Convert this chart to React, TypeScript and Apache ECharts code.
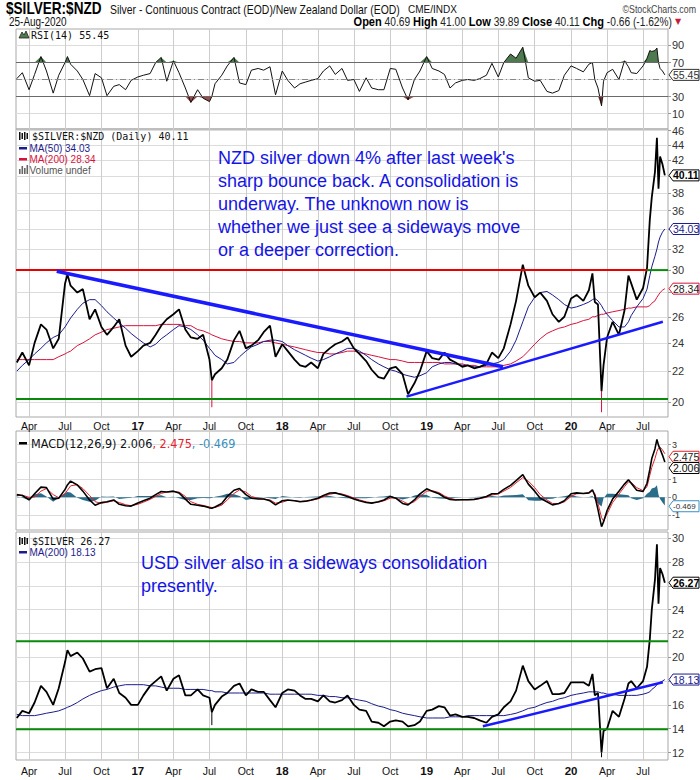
import React, { useEffect, useRef } from "react";
import * as echarts from "echarts";

// ---------- DATA ----------
const dates = [
  "2016-03-01","2016-03-15","2016-04-01","2016-04-15","2016-05-01","2016-05-15","2016-06-01","2016-06-15","2016-07-01","2016-07-07",
  "2016-07-15","2016-08-01","2016-08-15","2016-09-01","2016-09-15","2016-10-01","2016-10-15","2016-11-01","2016-11-15","2016-12-01",
  "2016-12-15","2017-01-01","2017-01-15","2017-02-01","2017-02-15","2017-03-01","2017-03-15","2017-04-01","2017-04-15","2017-05-01",
  "2017-05-15","2017-06-01","2017-06-15","2017-07-01","2017-07-07","2017-07-15","2017-08-01","2017-08-15","2017-09-01","2017-09-15",
  "2017-10-01","2017-10-15","2017-11-01","2017-11-15","2017-12-01","2017-12-15","2018-01-01","2018-01-15","2018-02-01","2018-02-15",
  "2018-03-01","2018-03-15","2018-04-01","2018-04-15","2018-05-01","2018-05-15","2018-06-01","2018-06-15","2018-07-01","2018-07-15",
  "2018-08-01","2018-08-15","2018-09-01","2018-09-15","2018-10-01","2018-10-15","2018-11-01","2018-11-15","2018-12-01","2018-12-15",
  "2019-01-01","2019-01-15","2019-02-01","2019-02-15","2019-03-01","2019-03-15","2019-04-01","2019-04-15","2019-05-01","2019-05-15",
  "2019-06-01","2019-06-15","2019-07-01","2019-07-15","2019-08-01","2019-08-15","2019-09-01","2019-09-15","2019-10-01","2019-10-15",
  "2019-11-01","2019-11-15","2019-12-01","2019-12-15","2020-01-01","2020-01-15","2020-02-01","2020-02-15","2020-02-24","2020-03-01",
  "2020-03-09","2020-03-18","2020-03-23","2020-04-01","2020-04-15","2020-05-01","2020-05-15","2020-05-25","2020-06-01","2020-06-15",
  "2020-07-01","2020-07-11","2020-07-18","2020-07-23","2020-07-31","2020-08-05","2020-08-09","2020-08-13","2020-08-19","2020-08-25",
];

const nzdClose = [
  22.6, 23.3, 22.4, 24.0, 25.4, 25.0, 23.6, 24.3, 28.8, 29.6,
  28.6, 28.0, 28.3, 25.8, 26.6, 25.2, 24.6, 25.2, 25.8, 23.8,
  23.0, 23.4, 23.8, 24.0, 24.6, 25.3, 25.8, 26.2, 26.6, 25.0,
  24.4, 24.3, 24.6, 22.8, 21.4, 21.8, 22.2, 22.8, 24.2, 24.9,
  23.6, 23.8, 24.2, 24.8, 25.3, 23.0, 23.9, 23.4, 22.8, 22.4,
  22.3, 22.6, 22.2, 23.2, 23.6, 23.9, 24.1, 24.4, 23.6, 23.2,
  22.7, 22.1, 21.6, 21.5, 22.2, 22.3, 21.8, 20.5, 21.2, 22.0,
  23.4, 22.9, 22.8, 23.3, 22.8, 22.6, 22.3, 22.4, 22.2, 22.3,
  22.5, 23.3, 22.9, 23.6, 25.4, 27.3, 30.5, 28.6, 27.6, 28.0,
  27.3, 26.2, 25.6, 26.0, 27.5, 27.8, 27.3, 28.2, 29.7, 27.2,
  27.0, 20.7, 22.4, 24.4, 25.6, 24.6, 26.5, 29.5, 28.8, 27.4,
  28.4, 30.2, 35.0, 37.5, 40.5, 45.0, 38.5, 42.5, 41.5, 40.11,
];
const nzdMa50 = [
  22.0, 22.4, 22.8, 23.2, 23.6, 24.0, 24.4, 24.6, 25.2, 25.5,
  25.9, 26.6, 27.1, 27.4, 27.4, 26.9, 26.4, 25.9, 25.5, 25.1,
  24.7, 24.3, 24.0, 23.7, 23.9, 24.3, 24.6, 25.0, 25.3, 25.2,
  25.0, 24.6, 24.2, 23.6, 23.4, 23.1, 22.8, 22.5, 22.6, 23.0,
  23.4, 23.7, 23.9, 24.1, 24.2, 24.2, 24.1, 23.8, 23.5, 23.3,
  23.1, 22.9, 22.7, 22.8, 23.0, 23.2, 23.4, 23.6, 23.6, 23.4,
  23.1, 22.8, 22.5, 22.3, 22.1, 22.0, 21.8, 21.7, 21.6, 21.7,
  21.9, 22.3, 22.5, 22.6, 22.6, 22.5, 22.4, 22.4, 22.3, 22.3,
  22.4, 22.5, 22.6, 22.8, 23.4, 24.2, 25.6, 26.8, 27.6, 28.0,
  28.1, 27.8, 27.4, 27.0, 26.7, 26.8, 27.0, 27.2, 27.4, 27.5,
  27.3, 26.9, 26.6, 26.2, 25.7, 25.2, 25.2, 25.6, 26.1, 26.8,
  27.5, 28.3, 29.5, 30.3, 31.3, 32.0, 32.7, 33.2, 33.7, 34.03,
];
const nzdMa200 = [
  22.8, 22.8, 22.8, 22.8, 22.8, 22.8, 22.8, 23.0, 23.2, 23.3,
  23.4, 23.8, 24.0, 24.3, 24.6, 24.8, 25.0, 25.1, 25.2, 25.3,
  25.3, 25.3, 25.3, 25.3, 25.3, 25.4, 25.4, 25.4, 25.4, 25.3,
  25.3, 25.0, 24.9, 24.7, 24.6, 24.5, 24.3, 24.2, 24.1, 24.1,
  24.0, 24.0, 24.0, 24.1, 24.1, 24.0, 23.9, 23.8, 23.7, 23.6,
  23.5, 23.4, 23.3, 23.3, 23.2, 23.2, 23.3, 23.4, 23.4, 23.3,
  23.2, 23.1, 23.0, 22.9, 22.8, 22.8, 22.7, 22.6, 22.6, 22.6,
  22.6, 22.6, 22.6, 22.5, 22.5, 22.5, 22.5, 22.4, 22.4, 22.3,
  22.3, 22.3, 22.3, 22.4, 22.5, 22.7, 23.0, 23.4, 23.9, 24.3,
  24.7, 24.9, 25.1, 25.2, 25.4, 25.5, 25.7, 25.8, 26.0, 26.0,
  26.1, 26.2, 26.2, 26.3, 26.4, 26.5, 26.6, 26.7, 26.7, 26.8,
  26.8, 26.8, 26.9, 27.1, 27.3, 27.6, 27.8, 28.0, 28.2, 28.34,
];
// daily wicks that stick out of the close line: [date, close, low]
const nzdSpikes: [string, number, number][] = [["2017-07-07", 21.4, 19.7], ["2020-03-18", 20.7, 19.4]];

const rsi14 = [
  51, 58, 38, 56, 77, 60, 34, 55, 70, 77,
  68, 60, 50, 31, 57, 52, 31, 42, 44, 38,
  49, 53, 55, 57, 70, 76, 48, 72, 58, 40,
  23, 38, 28, 24, 30, 45, 55, 66, 76, 46,
  44, 61, 63, 61, 65, 32, 60, 49, 40, 45,
  47, 49, 51, 60, 66, 56, 63, 49, 50, 36,
  52, 40, 38, 38, 63, 62, 40, 26, 50, 60,
  77, 63, 60, 56, 40, 46, 49, 50, 49, 51,
  55, 69, 53, 70, 80, 75, 88, 52, 48, 49,
  36, 34, 37, 55, 66, 63, 59, 68, 70, 50,
  40, 19, 48, 58, 62, 50, 72, 65, 58, 57,
  66, 75, 84, 83, 84, 87, 70, 63, 60, 55.45,
];

const macdLine = [
  0.15, 0.10, -0.15, 0.20, 0.58, 0.55, -0.10, -0.05, 0.45, 0.70,
  0.92, 0.70, 0.35, -0.15, -0.45, -0.30, -0.25, -0.15, -0.40, -0.48,
  -0.50, -0.33, -0.20, -0.05, 0.15, 0.33, 0.30, 0.35, 0.25, -0.10,
  -0.40, -0.45, -0.50, -0.60, -0.62, -0.55, -0.35, 0.05, 0.40, 0.50,
  0.15, -0.05, -0.10, -0.10, -0.20, -0.43, -0.20, -0.15, -0.20, -0.25,
  -0.22, -0.15, -0.05, 0.10, 0.24, 0.25, 0.15, 0.05, -0.10, -0.20,
  -0.30, -0.33, -0.25, -0.15, 0.05, -0.05, -0.35, -0.43, -0.15, 0.20,
  0.48, 0.35, 0.20, 0.00, -0.12, -0.15, -0.14, -0.14, -0.12, -0.05,
  0.05, 0.20, 0.22, 0.45, 0.68, 0.95, 1.29, 0.75, 0.35, -0.05,
  -0.25, -0.43, -0.35, -0.20, 0.20, 0.25, 0.22, 0.25, 0.43, 0.10,
  -0.70, -1.67, -1.40, -0.75, -0.10, 0.35, 0.75, 1.00, 0.80, 0.40,
  0.33, 0.80, 1.57, 2.20, 2.75, 3.29, 2.95, 2.75, 2.40, 2.006,
];
const macdSignal = [
  0.10, 0.12, 0.00, 0.02, 0.35, 0.50, 0.15, -0.02, 0.20, 0.40,
  0.65, 0.72, 0.50, 0.10, -0.25, -0.35, -0.28, -0.20, -0.30, -0.42,
  -0.48, -0.40, -0.28, -0.12, 0.05, 0.22, 0.30, 0.32, 0.30, 0.05,
  -0.25, -0.40, -0.46, -0.55, -0.58, -0.58, -0.45, -0.15, 0.22, 0.42,
  0.30, 0.05, -0.06, -0.10, -0.15, -0.33, -0.28, -0.18, -0.19, -0.23,
  -0.23, -0.18, -0.09, 0.03, 0.17, 0.23, 0.19, 0.10, -0.04, -0.15,
  -0.25, -0.31, -0.28, -0.20, -0.05, -0.03, -0.22, -0.38, -0.25, 0.03,
  0.35, 0.38, 0.27, 0.08, -0.06, -0.13, -0.14, -0.14, -0.13, -0.08,
  0.00, 0.13, 0.19, 0.35, 0.56, 0.82, 1.12, 0.92, 0.55, 0.15,
  -0.15, -0.35, -0.37, -0.26, 0.05, 0.20, 0.22, 0.24, 0.35, 0.22,
  -0.35, -1.15, -1.35, -0.95, -0.30, 0.18, 0.60, 0.88, 0.85, 0.55,
  0.38, 0.60, 1.25, 1.70, 2.20, 2.60, 2.80, 2.85, 2.70, 2.475,
];
const macdHist = [
  0.05, -0.02, -0.15, 0.18, 0.23, 0.05, -0.25, -0.03, 0.25, 0.30,
  0.27, -0.02, -0.15, -0.25, -0.20, 0.05, 0.03, 0.05, -0.10, -0.06,
  -0.02, 0.07, 0.08, 0.07, 0.10, 0.11, 0.00, 0.03, -0.05, -0.15,
  -0.15, -0.05, -0.04, -0.05, -0.04, 0.03, 0.10, 0.20, 0.18, 0.08,
  -0.15, -0.10, -0.04, 0.00, -0.05, -0.10, 0.08, 0.03, -0.01, -0.02,
  0.01, 0.03, 0.04, 0.07, 0.07, 0.02, -0.04, -0.05, -0.06, -0.05,
  -0.05, -0.02, 0.03, 0.05, 0.10, -0.02, -0.13, -0.05, 0.10, 0.17,
  0.13, -0.03, -0.07, -0.08, -0.06, -0.02, 0.00, 0.00, 0.01, 0.03,
  0.05, 0.07, 0.03, 0.10, 0.12, 0.13, 0.17, -0.17, -0.20, -0.20,
  -0.10, -0.08, 0.02, 0.06, 0.15, 0.05, 0.00, 0.01, 0.08, -0.12,
  -0.35, -0.52, -0.05, 0.20, 0.20, 0.17, 0.15, 0.12, -0.05, -0.15,
  -0.05, 0.20, 0.32, 0.50, 0.55, 0.69, 0.15, -0.10, -0.30, -0.469,
];

const usdClose = [
  14.9, 15.5, 15.3, 16.2, 17.6, 17.1, 16.0, 17.4, 19.6, 20.6,
  20.1, 20.4, 19.9, 18.8, 19.0, 19.1, 17.4, 18.2, 17.0, 16.6,
  16.0, 16.0, 16.8, 17.6, 18.0, 18.4, 17.2, 18.2, 18.5, 16.8,
  16.8, 17.3, 16.8, 16.6, 15.4, 16.0, 16.7, 17.0, 17.6, 17.8,
  16.8, 17.3, 17.1, 17.1, 16.4, 15.8, 17.0, 17.3, 17.2, 16.8,
  16.5, 16.5, 16.3, 16.8, 16.3, 16.2, 16.4, 16.8, 16.0, 15.6,
  15.5, 14.6, 14.5, 14.2, 14.6, 14.7, 14.6, 14.2, 14.3, 14.6,
  15.5, 15.6, 15.9, 15.8, 15.1, 15.2, 15.0, 15.0, 14.9, 14.7,
  14.5, 15.0, 15.2, 15.8, 16.3, 17.2, 19.3, 18.0, 17.3, 17.6,
  18.0, 16.9, 16.9, 17.0, 17.9, 17.9, 17.9, 17.6, 18.6, 16.8,
  17.0, 12.0, 13.8, 14.0, 15.5, 15.0, 16.5, 17.8, 18.0, 17.4,
  18.0, 19.2, 21.5, 24.0, 26.5, 29.5, 24.5, 27.5, 27.0, 26.27,
];
const usdMa200 = [
  15.2, 15.1, 15.1, 15.1, 15.2, 15.3, 15.4, 15.5, 15.7, 15.8,
  15.9, 16.2, 16.5, 16.8, 17.0, 17.2, 17.3, 17.5, 17.6, 17.7,
  17.7, 17.7, 17.7, 17.6, 17.6, 17.5, 17.4, 17.4, 17.4, 17.3,
  17.3, 17.3, 17.3, 17.2, 17.2, 17.1, 17.1, 17.0, 17.0, 17.0,
  17.0, 17.0, 17.0, 17.0, 16.9, 16.9, 16.9, 16.9, 16.9, 16.9,
  16.9, 16.9, 16.8, 16.8, 16.7, 16.7, 16.6, 16.6, 16.5, 16.4,
  16.3, 16.1, 15.9, 15.8, 15.6, 15.5, 15.3, 15.2, 15.1, 15.0,
  14.9, 14.9, 14.9, 14.9, 15.0, 15.0, 15.0, 15.1, 15.1, 15.1,
  15.1, 15.1, 15.1, 15.1, 15.2, 15.3, 15.5, 15.7, 15.8, 16.0,
  16.2, 16.3, 16.5, 16.6, 16.8, 16.9, 17.0, 17.1, 17.1, 17.1,
  17.1, 17.0, 17.0, 16.9, 16.9, 16.8, 16.8, 16.8, 16.8, 16.8,
  16.9, 17.0, 17.1, 17.3, 17.5, 17.7, 17.8, 17.9, 18.0, 18.13,
];
const usdSpikes: [string, number, number][] = [["2017-07-07", 15.4, 14.3], ["2020-03-18", 12.0, 11.6]];

// drawn levels and trend lines
const nzdResistance = 30;
const nzdResistanceBreak = "2020-07-11";
const nzdSupport = 20.2;
const nzdDownTrend: [string, number][] = [["2016-06-10", 29.9], ["2019-07-13", 22.3]];
const nzdUpTrend: [string, number][] = [["2018-11-11", 20.35], ["2020-08-20", 25.6]];
const usdResistance = 21.35;
const usdSupport = 13.95;
const usdUpTrend: [string, number][] = [["2019-05-23", 14.2], ["2020-08-20", 17.9]];

// tick labels (grid ticks, and the labels left visible beside the value tags)
const xTickDates = [
  "2016-04-01","2016-07-01","2016-10-01","2017-01-01","2017-04-01","2017-07-01","2017-10-01","2018-01-01","2018-04-01",
  "2018-07-01","2018-10-01","2019-01-01","2019-04-01","2019-07-01","2019-10-01","2020-01-01","2020-04-01","2020-07-01",
];
const xTickLabels = ["Apr","Jul","Oct","17","Apr","Jul","Oct","18","Apr","Jul","Oct","19","Apr","Jul","Oct","20","Apr","Jul"];
const rsiTicks = [10, 30, 50, 70, 90];
const rsiLabels = [10, 30, 70, 90];
const nzdTicks = [20, 22, 24, 26, 28, 30, 32, 34, 36, 38, 40, 42, 44, 46];
const nzdLabels = [20, 22, 24, 26, 30, 32, 36, 38, 42, 44, 46];
const macdTicks = [-1, 0, 1, 2, 3];
const macdLabels = [-1, 0, 1, 3];
const usdTicks = [12, 14, 16, 18, 20, 22, 24, 26, 28, 30];
const usdLabels = [12, 14, 16, 20, 22, 24, 28, 30];

// ---------- helpers ----------
const FONT = "'Liberation Sans', Arial, Helvetica, sans-serif";
const MONO = "'DejaVu Sans Mono', 'Liberation Mono', monospace";
const DEJAVU = "'DejaVu Sans', Verdana, sans-serif";

const DAY0 = Date.UTC(2016, 0, 1);
const toDay = (s: string) =>
  (Date.UTC(+s.slice(0, 4), +s.slice(5, 7) - 1, +s.slice(8, 10)) - DAY0) / 86400000;
const X_MIN = 58;
const X_MAX = 1706;
const xDays = dates.map(toDay);
const tickDays = xTickDates.map(toDay);
const ln = Math.log;
const pts = (vals: number[], f: (v: number) => number = (v) => v) => vals.map((v, i) => [xDays[i], f(v)]);

const GRIDS = [
  { top: 29, height: 100 },
  { top: 129, height: 288 },
  { top: 431, height: 99 },
  { top: 532, height: 228 },
];

const NAVY = "#1c1c8c";
const CRIMSON = "#d8123c";
const BLUE = "#1a1aff";
const GREEN = "#0a8a0a";

function xAxisFor(gi: number, showLabels: boolean, margin: number) {
  return {
    type: "value",
    gridIndex: gi,
    min: X_MIN,
    max: X_MAX,
    axisLine: { show: false },
    axisTick: { show: false, customValues: tickDays },
    axisLabel: {
      show: showLabels,
      customValues: tickDays,
      margin,
      fontSize: 10.5,
      fontFamily: FONT,
      color: "#111",
      formatter: (v: number) => {
        const i = tickDays.indexOf(Math.round(v));
        const t = i >= 0 ? xTickLabels[i] : "";
        return /^\d+$/.test(t) ? `{b|${t}}` : t;
      },
      rich: { b: { fontWeight: "bold", fontSize: 11.5, fontFamily: FONT, color: "#111" } },
    },
    splitLine: { show: true, lineStyle: { color: "#cdcdcd", width: 1 } },
  };
}

function yAxisFor(
  gi: number,
  min: number,
  max: number,
  ticks: number[],
  labels: number[],
  toAxis: (v: number) => number,
  fmt: (v: number) => string,
  fontSize = 11
) {
  return {
    type: "value",
    gridIndex: gi,
    position: "right",
    min,
    max,
    axisLine: { show: false },
    axisTick: { show: true, length: 3, customValues: ticks.map(toAxis), lineStyle: { color: "#999" } },
    axisLabel: { customValues: labels.map(toAxis), formatter: fmt, fontSize, fontFamily: FONT, color: "#333", margin: 4 },
    splitLine: { show: true, lineStyle: { color: "#dcdcdc", width: 1 } },
  };
}

function lineS(xi: number, data: any[], color: string, width: number, z = 2, extra: any = {}) {
  return {
    type: "line",
    xAxisIndex: xi,
    yAxisIndex: xi,
    data,
    symbol: "none",
    silent: true,
    z,
    lineStyle: { color, width },
    ...extra,
  };
}

function buildOption() {
  const series: any[] = [];
  // RSI
  series.push(lineS(0, pts(rsi14, (v) => Math.max(v, 70)), "#4f7a4f", 0, 2, { areaStyle: { color: "#4f7a4f", origin: 70, opacity: 1 } }));
  series.push(lineS(0, pts(rsi14, (v) => Math.min(v, 30)), "#9c4a4a", 0, 2, { areaStyle: { color: "#9c4a4a", origin: 30, opacity: 1 } }));
  series.push(
    lineS(0, pts(rsi14), "#111", 1, 3, {
      markLine: {
        silent: true,
        symbol: ["none", "none"],
        label: { show: false },
        data: [
          { yAxis: 70, lineStyle: { color: "#6a6a6a", width: 1, type: "solid" } },
          { yAxis: 30, lineStyle: { color: "#6a6a6a", width: 1, type: "solid" } },
          { yAxis: 50, lineStyle: { color: "#888", width: 1, type: [6, 3, 1, 3] } },
        ],
      },
    })
  );
  // main NZD panel (log scale through ln transform)
  series.push(lineS(1, pts(nzdMa200, ln), CRIMSON, 1, 2));
  series.push(lineS(1, pts(nzdMa50, ln), NAVY, 1, 2));
  nzdSpikes.forEach(([d, c, l]) => series.push(lineS(1, [[toDay(d), ln(c)], [toDay(d), ln(l)]], CRIMSON, 1, 3)));
  series.push(lineS(1, pts(nzdClose, ln), "#000", 1.8, 3));
  series.push(lineS(1, [[X_MIN, ln(nzdResistance)], [toDay(nzdResistanceBreak), ln(nzdResistance)]], "#e80000", 2, 4));
  series.push(lineS(1, [[toDay(nzdResistanceBreak), ln(nzdResistance)], [X_MAX, ln(nzdResistance)]], GREEN, 2, 4));
  series.push(lineS(1, [[X_MIN, ln(nzdSupport)], [X_MAX, ln(nzdSupport)]], GREEN, 2, 4));
  series.push(lineS(1, nzdDownTrend.map(([d, v]) => [toDay(d), ln(v)]), BLUE, 3.5, 4));
  series.push(lineS(1, nzdUpTrend.map(([d, v]) => [toDay(d), ln(v)]), BLUE, 2.5, 4));
  // MACD
  series.push(lineS(2, pts(macdHist), "#2a6d8a", 0, 2, { areaStyle: { color: "#2a6d8a", origin: 0, opacity: 1 } }));
  series.push(lineS(2, pts(macdSignal), "#e8202a", 1, 3));
  series.push(lineS(2, pts(macdLine), "#000", 1.6, 4));
  // USD silver
  series.push(lineS(3, pts(usdMa200), NAVY, 1, 2));
  usdSpikes.forEach(([d, c, l]) => series.push(lineS(3, [[toDay(d), c], [toDay(d), l]], "#000", 1, 3)));
  series.push(lineS(3, pts(usdClose), "#000", 1.8, 3));
  series.push(lineS(3, [[X_MIN, usdResistance], [X_MAX, usdResistance]], GREEN, 2, 4));
  series.push(lineS(3, [[X_MIN, usdSupport], [X_MAX, usdSupport]], GREEN, 2, 4));
  series.push(lineS(3, usdUpTrend.map(([d, v]) => [toDay(d), v]), BLUE, 2.5, 4));

  return {
    animation: false,
    backgroundColor: "#ffffff",
    grid: GRIDS.map((g) => ({
      left: 16,
      right: 32,
      top: g.top,
      height: g.height,
      show: true,
      borderColor: "#a8a8a8",
      borderWidth: 1,
      backgroundColor: "transparent",
    })),
    xAxis: [xAxisFor(0, false, 2), xAxisFor(1, true, 3), xAxisFor(2, false, 2), xAxisFor(3, true, 5)],
    yAxis: [
      yAxisFor(0, -8.2, 109.4, rsiTicks, rsiLabels, (v) => v, (v) => String(Math.round(v))),
      yAxisFor(1, ln(19.12), ln(46.24), nzdTicks, nzdLabels, ln, (v) => String(Math.round(Math.exp(v)))),
      yAxisFor(2, -1.86, 3.77, macdTicks, macdLabels, (v) => v, (v) => String(Math.round(v)), 9),
      yAxisFor(3, 11.37, 30.53, usdTicks, usdLabels, (v) => v, (v) => String(Math.round(v))),
    ],
    series,
  };
}

function tag(y: number, text: string, border: string, color: string, bold = false, fsOverride = 0) {
  const x0 = 668;
  const h = 11;
  const fs = fsOverride || (text.length > 5 ? 9.3 : 10.5);
  return [
    {
      type: "polygon",
      z: 200,
      silent: true,
      shape: { points: [[x0 + 1, y], [x0 + 5, y - h / 2], [x0 + 31, y - h / 2], [x0 + 31, y + h / 2], [x0 + 5, y + h / 2]] },
      style: { fill: "#fff", stroke: border, lineWidth: 1 },
    },
    {
      type: "text",
      z: 201,
      silent: true,
      x: x0 + 5,
      y,
      style: { text, fill: color, fontSize: fs, fontWeight: bold ? "bold" : "normal", fontFamily: FONT, verticalAlign: "middle" },
    },
  ];
}

function txt(x: number, y: number, text: string, style: any, scaleX = 1) {
  return { type: "text", x, y, scaleX, z: 150, silent: true, style: { text, verticalAlign: "middle", ...style } };
}

function buildGraphic(chart: any) {
  const py = (axis: number, v: number) => chart.convertToPixel({ yAxisIndex: axis }, v);
  const g: any[] = [];
  // header (narrow look made by squeezing the installed sans font)
  g.push(txt(6, 9, "$SILVER:$NZD", { fontFamily: FONT, fontSize: 16, fontWeight: "bold", fill: "#000" }, 0.85));
  g.push(txt(110, 9.5, "Silver - Continuous Contract (EOD)/New Zealand Dollar (EOD)", { fontFamily: FONT, fontSize: 12, fill: "#111" }, 0.87));
  g.push(txt(408, 9.5, "CME/INDX", { fontFamily: FONT, fontSize: 10, fill: "#111" }, 1));
  g.push(txt(696, 9.5, "©StockCharts.com", { fontFamily: FONT, fontSize: 11, fill: "#444", align: "right" }, 0.8));
  g.push(txt(9, 21.5, "25-Aug-2020", { fontFamily: FONT, fontSize: 12, fill: "#111" }, 0.83));
  g.push(
    txt(
      672,
      21.5,
      "{b|Open} 40.69 {b|High} 41.00 {b|Low} 39.89 {b|Close} 40.11 {b|Chg} -0.66 (-1.62%)",
      {
        fontFamily: FONT,
        fontSize: 12,
        fill: "#222",
        align: "right",
        rich: { b: { fontFamily: FONT, fontSize: 13, fontWeight: "bold", fill: "#000" } },
      },
      0.85
    )
  );
  g.push(txt(675, 21.5, "▼", { fontFamily: DEJAVU, fontSize: 8, fill: "#c41e3a" }));

  // RSI legend
  g.push({ type: "polygon", z: 150, silent: true, shape: { points: [[19, 38], [22, 32], [24, 35], [26, 31], [29, 38]] }, style: { fill: "#4f7a4f", stroke: "#222", lineWidth: 0.8 } });
  g.push(txt(31, 35, "RSI(14) 55.45", { fontFamily: MONO, fontSize: 10, fill: "#111" }));

  // main legend
  [19, 21.5, 24, 26.5].forEach((x, i) =>
    g.push({ type: "rect", z: 150, silent: true, shape: { x, y: 132 + (i % 2), width: 1.5, height: 8 - (i % 2) * 2 }, style: { fill: "#111" } })
  );
  g.push(txt(32, 136.5, "$SILVER:$NZD (Daily) 40.11", { fontFamily: MONO, fontSize: 10, fill: "#111" }));
  g.push({ type: "rect", z: 150, silent: true, shape: { x: 19, y: 147, width: 8, height: 2.5 }, style: { fill: NAVY } });
  g.push(txt(29.5, 148.5, "MA(50) 34.03", { fontFamily: FONT, fontSize: 10, fill: NAVY }));
  g.push({ type: "rect", z: 150, silent: true, shape: { x: 19, y: 158, width: 8, height: 2.5 }, style: { fill: CRIMSON } });
  g.push(txt(29.5, 159.5, "MA(200) 28.34", { fontFamily: FONT, fontSize: 10, fill: CRIMSON }));
  [[19, 5], [21.5, 8], [24, 6], [26.5, 9]].forEach(([x, h]) =>
    g.push({ type: "rect", z: 150, silent: true, shape: { x, y: 174 - h, width: 1.6, height: h }, style: { fill: "#666" } })
  );
  g.push(txt(29.5, 170, "Volume undef", { fontFamily: FONT, fontSize: 10, fill: "#555" }));

  // annotation
  g.push({
    type: "text",
    x: 218,
    y: 146.5,
    z: 150,
    silent: true,
    style: {
      text: "NZD silver down 4% after last week's\nsharp bounce back. A consolidation is\nunderway. The unknown now is\nwhether we just see a sideways move\nor a deeper correction.",
      fontFamily: FONT,
      fontSize: 18,
      lineHeight: 23,
      fill: "#1414e6",
      verticalAlign: "top",
    },
  });

  // MACD legend
  g.push({ type: "rect", z: 150, silent: true, shape: { x: 19, y: 442, width: 8, height: 2.5 }, style: { fill: "#000" } });
  g.push(
    txt(31, 443.5, "MACD(12,26,9) 2.006{r|, 2.475}{c|, -0.469}", {
      fontFamily: DEJAVU,
      fontSize: 11.5,
      fill: "#111",
      rich: { r: { fill: "#e8202a", fontFamily: DEJAVU, fontSize: 11.5 }, c: { fill: "#3a8fc0", fontFamily: DEJAVU, fontSize: 11.5 } },
    }, 0.98)
  );

  // USD legend
  [19, 21.5, 24, 26.5].forEach((x, i) =>
    g.push({ type: "rect", z: 150, silent: true, shape: { x, y: 537 + (i % 2), width: 1.5, height: 8 - (i % 2) * 2 }, style: { fill: "#111" } })
  );
  g.push(txt(32, 541, "$SILVER 26.27", { fontFamily: MONO, fontSize: 10, fill: "#111" }));
  g.push({ type: "rect", z: 150, silent: true, shape: { x: 19, y: 551, width: 8, height: 2.5 }, style: { fill: NAVY } });
  g.push(txt(29.5, 552.5, "MA(200) 18.13", { fontFamily: FONT, fontSize: 10, fill: NAVY }));
  g.push({
    type: "text",
    x: 141,
    y: 551.5,
    z: 150,
    silent: true,
    style: {
      text: "USD silver also in a sideways consolidation\npresently.",
      fontFamily: FONT,
      fontSize: 18,
      lineHeight: 23,
      fill: "#1414e6",
      verticalAlign: "top",
    },
  });

  // value tags on the right axis
  g.push(...tag(py(0, rsi14[rsi14.length - 1]), "55.45", "#333", "#333"));
  g.push(...tag(py(1, ln(nzdMa200[nzdMa200.length - 1])), "28.34", CRIMSON, "#222"));
  g.push(...tag(py(1, ln(nzdMa50[nzdMa50.length - 1])), "34.03", NAVY, NAVY));
  g.push(...tag(py(1, ln(nzdClose[nzdClose.length - 1])), "40.11", "#000", "#000", true));
  g.push(...tag(py(2, macdHist[macdHist.length - 1]) + 0.7, "-0.469", "#3a8fc0", "#333", false, 8));
  g.push(...tag(py(2, macdSignal[macdSignal.length - 1]) + 3, "2.475", "#e8202a", "#222"));
  g.push(...tag(py(2, macdLine[macdLine.length - 1]) + 6, "2.006", "#000", "#111"));
  g.push(...tag(py(3, usdMa200[usdMa200.length - 1]), "18.13", NAVY, NAVY));
  g.push(...tag(py(3, usdClose[usdClose.length - 1]), "26.27", "#000", "#000", true));
  return g;
}

export default function App() {
  const ref = useRef<HTMLDivElement>(null);
  useEffect(() => {
    const chart = echarts.init(ref.current!, null, { renderer: "svg" });
    chart.setOption(buildOption() as any);
    chart.setOption({ graphic: buildGraphic(chart) } as any);
    return () => chart.dispose();
  }, []);
  return (
    <div
      ref={ref}
      style={{ position: "absolute", left: 0, top: 0, width: 700, height: 780, background: "#fff" }}
    />
  );
}
